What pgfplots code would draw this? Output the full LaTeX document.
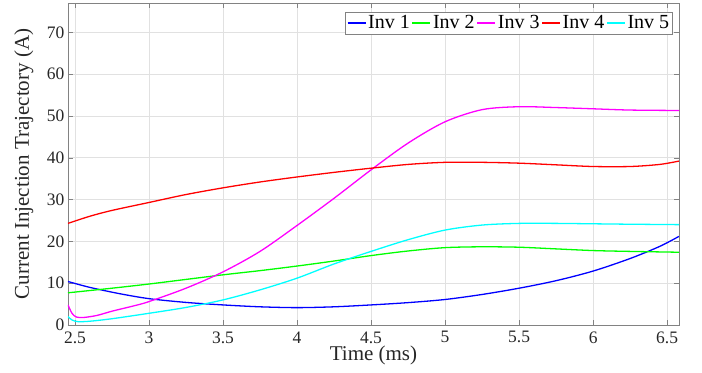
\documentclass[border=0pt]{standalone}
\usepackage{pgfplots}
\pgfplotsset{compat=1.18}
\usepackage{fontspec}
\setmainfont{Liberation Serif}
\definecolor{gridc}{RGB}{225,225,225}
\definecolor{axc}{RGB}{130,130,130}
\definecolor{c1}{RGB}{0,0,255}
\definecolor{c2}{RGB}{0,255,0}
\definecolor{c3}{RGB}{255,0,255}
\definecolor{c4}{RGB}{255,0,0}
\definecolor{c5}{RGB}{0,255,255}
\begin{document}
\begin{tikzpicture}
\begin{axis}[
  at={(0,0)}, anchor=south west,
  scale only axis, width=611bp, height=322bp,
  xmin=2.453, xmax=6.58, ymin=0, ymax=77,
  xtick={2.5,3,...,6.5}, ytick={0,10,...,70},
  xticklabels={2.5,3,3.5,4,4.5,5,5.5,6,6.5},
  /pgf/number format/assume math mode=true,
  tick label style={font=\fontsize{17.5bp}{18bp}\selectfont, text=black!85},
  xticklabel style={yshift=-3bp},
  label style={font=\fontsize{21bp}{22bp}\selectfont, text=black!85},
  xlabel={Time (ms)},
  ylabel={Current Injection Trajectory (A)},
  xlabel style={at={(axis description cs:0.5,0)}, anchor=north, yshift=-17bp},
  ylabel style={at={(axis description cs:-0.051,0.5)}, anchor=south, rotate=0},
  grid=major, major grid style={gridc, line width=0.5pt},
  axis line style={axc, line width=0.6pt},
  tick style={axc}, tick align=inside, major tick length=5bp,
  xtick pos=both, ytick pos=both,
  legend columns=5,
  legend style={at={(0.99,0.972)}, anchor=north east, draw=axc, fill=white,
    font=\fontsize{20bp}{21bp}\selectfont, inner sep=1.5bp,
    /tikz/every even column/.append style={column sep=0bp}},
  legend image code/.code={\draw[#1, line width=1.2pt] (0bp,0bp) -- (18bp,0bp);},
  every axis plot/.append style={line width=1.3pt, smooth},
]
\addplot[color=c1] coordinates {
(2.453,10.4)(2.6,9.0)(2.8,7.5)(3.0,6.3)(3.25,5.4)(3.5,4.8)(3.75,4.35)(4.0,4.15)(4.25,4.35)(4.5,4.8)(4.75,5.35)(5.0,6.1)(5.25,7.3)(5.5,8.8)(5.75,10.6)(6.0,12.9)(6.25,15.9)(6.45,18.8)(6.58,21.2)};
\addlegendentry{Inv 1}
\addplot[color=c2] coordinates {
(2.453,7.7)(2.75,8.8)(3.0,9.8)(3.25,10.9)(3.5,12.0)(3.75,13.0)(4.0,14.1)(4.25,15.3)(4.5,16.6)(4.75,17.7)(5.0,18.5)(5.25,18.7)(5.5,18.6)(5.75,18.2)(6.0,17.8)(6.25,17.6)(6.58,17.4)};
\addlegendentry{Inv 2}
\addplot[color=c3] coordinates {
(2.453,4.8)(2.48,2.8)(2.51,1.9)(2.56,1.8)(2.65,2.3)(2.75,3.3)(2.9,4.6)(3.0,5.6)(3.25,8.8)(3.5,12.7)(3.75,17.6)(4.0,23.8)(4.25,30.3)(4.5,37.1)(4.75,43.5)(5.0,48.6)(5.25,51.5)(5.5,52.2)(5.75,52.0)(6.0,51.7)(6.25,51.4)(6.58,51.3)};
\addlegendentry{Inv 3}
\addplot[color=c4] coordinates {
(2.453,24.3)(2.6,26.0)(2.75,27.4)(3.0,29.3)(3.25,31.2)(3.5,32.8)(3.75,34.2)(4.0,35.4)(4.25,36.5)(4.5,37.5)(4.75,38.4)(5.0,38.9)(5.25,38.9)(5.5,38.7)(5.75,38.3)(6.0,37.9)(6.25,37.9)(6.45,38.4)(6.58,39.2)};
\addlegendentry{Inv 4}
\addplot[color=c5] coordinates {
(2.453,2.0)(2.48,1.2)(2.52,0.8)(2.6,0.9)(2.75,1.5)(3.0,2.8)(3.25,4.2)(3.5,6.0)(3.75,8.4)(4.0,11.2)(4.25,14.6)(4.5,17.6)(4.75,20.4)(5.0,22.7)(5.25,23.9)(5.5,24.3)(5.75,24.3)(6.0,24.2)(6.25,24.1)(6.58,24.0)};
\addlegendentry{Inv 5}
\end{axis}
\useasboundingbox (-68bp,-48bp) rectangle (634bp,325bp);
\end{tikzpicture}
\end{document}
